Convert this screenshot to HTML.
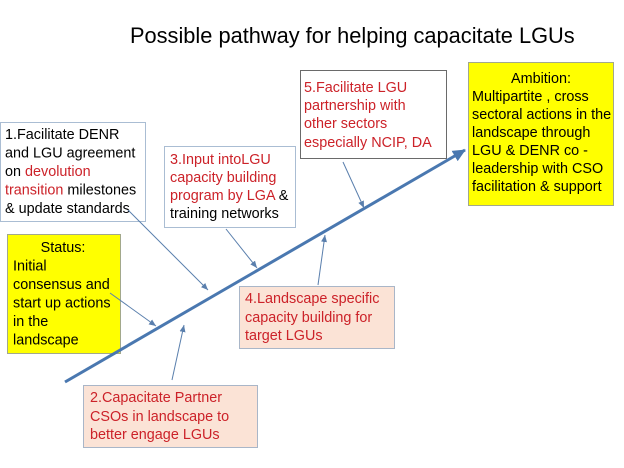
<!DOCTYPE html>
<html><head><meta charset="utf-8"><style>
html,body{margin:0;padding:0;background:#fff;width:624px;height:468px;overflow:hidden}
svg{display:block}
text{font-family:"Liberation Sans",Arial,sans-serif;font-size:14.4px;fill:#000}
.r{fill:#cc2229}
</style></head><body>
<svg width="624" height="468" viewBox="0 0 624 468" xmlns="http://www.w3.org/2000/svg">
<defs>
<marker id="ah" markerWidth="8" markerHeight="8" refX="7" refY="4" orient="auto" markerUnits="userSpaceOnUse">
<path d="M0,1 L7,4 L0,7 z" fill="#5a7fad"/>
</marker>
<marker id="big" markerWidth="14" markerHeight="12" refX="12" refY="6" orient="auto" markerUnits="userSpaceOnUse">
<path d="M0,0 L13,6 L0,12 z" fill="#4a78b0"/>
</marker>
</defs>

<text x="130" y="43" style="font-size:21.8px">Possible pathway for helping capacitate LGUs</text>

<!-- Box 1 -->
<rect x="0.5" y="122.5" width="145" height="99" fill="#fff" stroke="#aabdd3" stroke-width="1"/>
<text x="5" y="139">1.Facilitate DENR</text>
<text x="5" y="157.5">and LGU agreement</text>
<text x="5" y="176">on <tspan class="r">devolution</tspan></text>
<text x="5" y="194.5"><tspan class="r">transition</tspan> milestones</text>
<text x="5" y="213">&amp; update standards</text>

<!-- Box 3 -->
<rect x="164.5" y="146.5" width="131" height="81" fill="#fff" stroke="#aabdd3" stroke-width="1"/>
<text x="170" y="164" class="r">3.Input intoLGU</text>
<text x="170" y="182" class="r">capacity building</text>
<text x="170" y="200"><tspan class="r">program by LGA </tspan> &amp;</text>
<text x="170" y="218">training networks</text>

<!-- Box 5 -->
<rect x="300.5" y="70.5" width="146" height="88" fill="#fff" stroke="#6a6a6a" stroke-width="1"/>
<text x="304" y="92" class="r">5.Facilitate LGU</text>
<text x="304" y="110" class="r">partnership with</text>
<text x="304" y="128" class="r">other sectors</text>
<text x="304" y="147" class="r">especially NCIP, DA</text>

<!-- Ambition -->
<rect x="468.5" y="62.5" width="145" height="143" fill="#ffff00" stroke="#a2a88c" stroke-width="1"/>
<text x="541" y="83" text-anchor="middle">Ambition:</text>
<text x="472" y="101">Multipartite , cross</text>
<text x="472" y="119">sectoral actions in the</text>
<text x="472" y="137">landscape through</text>
<text x="472" y="155">LGU &amp; DENR co -</text>
<text x="472" y="173">leadership with CSO</text>
<text x="472" y="191">facilitation &amp; support</text>

<!-- Status -->
<rect x="7.5" y="234.5" width="113" height="119" fill="#ffff00" stroke="#a2a88c" stroke-width="1"/>
<text x="63" y="252" text-anchor="middle">Status:</text>
<text x="13" y="270.5">Initial</text>
<text x="13" y="289">consensus and</text>
<text x="13" y="307.5">start up actions</text>
<text x="13" y="326">in the</text>
<text x="13" y="344.5">landscape</text>

<!-- Box 4 -->
<rect x="239.5" y="286.5" width="155" height="62" fill="#fbe3d6" stroke="#a9b6c8" stroke-width="1"/>
<text x="245" y="303" class="r">4.Landscape specific</text>
<text x="245" y="322" class="r">capacity building for</text>
<text x="245" y="340" class="r">target LGUs</text>

<!-- Box 2 -->
<rect x="83.5" y="385.5" width="174" height="62" fill="#fbe3d6" stroke="#a9b6c8" stroke-width="1"/>
<text x="90" y="402" class="r">2.Capacitate Partner</text>
<text x="90" y="421" class="r">CSOs in landscape to</text>
<text x="90" y="439" class="r">better engage LGUs</text>

<!-- Main arrow -->
<line x1="65" y1="382" x2="465" y2="150" stroke="#4a78b0" stroke-width="3" marker-end="url(#big)"/>

<!-- Small arrows -->
<g stroke="#5a7fad" stroke-width="1" fill="none">
<line x1="128" y1="210" x2="208" y2="290" marker-end="url(#ah)"/>
<line x1="226" y1="229" x2="257" y2="268" marker-end="url(#ah)"/>
<line x1="110" y1="293" x2="156" y2="326" marker-end="url(#ah)"/>
<line x1="172" y1="380" x2="184" y2="325" marker-end="url(#ah)"/>
<line x1="318" y1="285" x2="325" y2="235" marker-end="url(#ah)"/>
<line x1="343" y1="162" x2="364" y2="208" marker-end="url(#ah)"/>
</g>
</svg>
</body></html>
